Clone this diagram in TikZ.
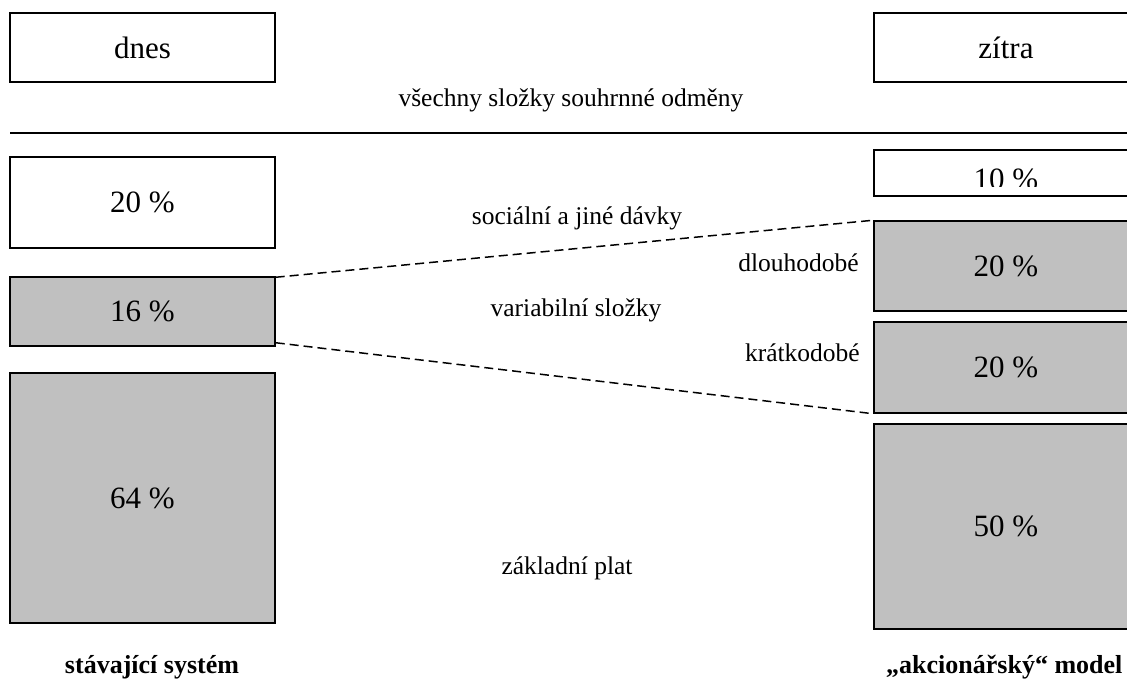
\documentclass[tikz,border=0pt]{standalone}
\usepackage{fontspec}
\setmainfont{Liberation Serif}
\definecolor{boxgray}{HTML}{C0C0C0}
\tikzset{
  box/.style={draw=black, line width=1.5pt, inner sep=0pt, rectangle, font=\fontsize{31}{35}\selectfont},
  graybox/.style={box, fill=boxgray},
  lbl/.style={inner sep=0pt, font=\fontsize{25.5}{29}\selectfont},
  foot/.style={inner sep=0pt, font=\fontsize{26}{30}\selectfont\bfseries},
  dashline/.style={line width=1.5pt, dash pattern=on 9pt off 5pt}
}
\begin{document}
\begin{tikzpicture}[x=1pt,y=-1pt]
\clip (0,0) rectangle (1127,682);
\fill[white] (0,0) rectangle (1127,682);
% left column
\node[box, minimum width=265pt, minimum height=69pt] (dnes) at (142.5,47.5) {dnes};
\node[box, minimum width=265pt, minimum height=91pt] (l20) at (142.5,202.5) {20 \%};
\node[graybox, minimum width=265pt, minimum height=69pt] (l16) at (142.5,311.5) {16 \%};
\node[graybox, minimum width=265pt, minimum height=250pt] (l64) at (142.5,498) {64 \%};
% right column
\node[box, minimum width=264pt, minimum height=69pt] (zitra) at (1006,47.5) {zítra};
\node[box, minimum width=264pt, minimum height=46pt] (r10) at (1006,173) {};
\begin{scope}
\clip (874,150) rectangle (1140,186);
\node[box, draw=none, anchor=base] (r10t) at (1006,189) {10 \%};
\end{scope}
\node[graybox, minimum width=264pt, minimum height=90pt] (r20a) at (1006,266) {20 \%};
\node[graybox, minimum width=264pt, minimum height=91pt] (r20b) at (1006,367.5) {20 \%};
\node[graybox, minimum width=264pt, minimum height=205pt] (r50) at (1006,526.5) {50 \%};
% divider
\coordinate (hl) at (10,133);
\coordinate (hr) at (1140,133);
\draw[line width=2pt] (hl) -- (hr);
% labels
\node[lbl] (title) at (571,100) {všechny složky souhrnné odměny};
\node[lbl] (soc) at (577,218) {sociální a jiné dávky};
\node[lbl] (var) at (576,310) {variabilní složky};
\node[lbl] (zak) at (567,568) {základní plat};
\node[lbl, anchor=east] (dlou) at (859,263) {dlouhodobé};
\node[lbl, anchor=east] (krat) at (860,353) {krátkodobé};
% dashed connectors
\coordinate (d1) at ([yshift=-1pt]l16.north east);
\coordinate (d2) at ([yshift=4pt]l16.south east);
\draw[dashline] (d1) -- (r20a.north west);
\draw[dashline] (d2) -- (r20b.south west);
% footers
\node[foot] (f1) at (152,667) {stávající systém};
\node[foot, anchor=west] (f2) at (886,667) {„akcionářský“ model};
\end{tikzpicture}
\end{document}
